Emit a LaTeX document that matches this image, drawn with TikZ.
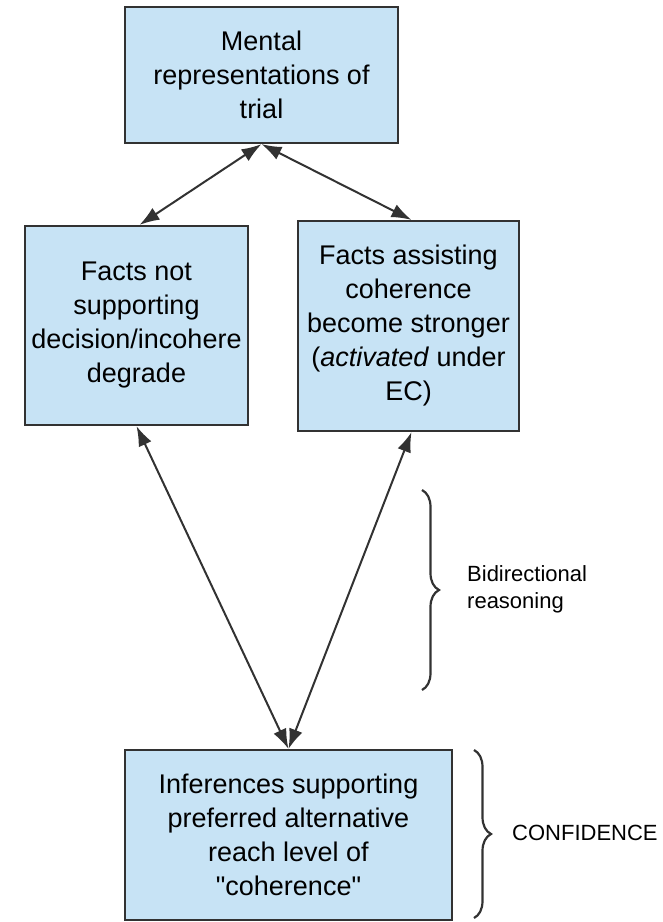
\documentclass[tikz,border=0pt]{standalone}
\usepackage{fontspec}
\setmainfont{Liberation Sans}
\usetikzlibrary{arrows.meta,decorations.pathreplacing,positioning}
\definecolor{boxblue}{RGB}{199,227,245}
\definecolor{edgegray}{RGB}{50,50,50}
\tikzset{
  stage/.style={
    shape = rectangle,
    draw = edgegray,
    fill = boxblue,
    line width = 2.2pt,
    align = center,
    inner sep = 0pt,
    font = \fontsize{27}{34}\selectfont
  },
}
\tikzset{
  link/.style={
    >={Latex[length=20pt,width=14pt]},
    <->,
    line width = 2pt,
    draw = edgegray
  },
  note/.style={
    align = left,
    anchor = west,
    inner sep = 0pt,
    font = \fontsize{22}{27}\selectfont
  },
  curly/.style={
    decorate,
    decoration = {brace, amplitude=17pt},
    line width = 2.2pt,
    draw = edgegray
  }
}

\begin{document}
\begin{tikzpicture}[x=1pt,y=-1pt]
    \useasboundingbox (0,0) rectangle (663,922);
    % boxes
    \node[stage, minimum width=273pt, minimum height=136pt] (trial) at (261.5,75) {Mental\\representations of\\trial};
    \node[stage, minimum width=223pt, minimum height=199pt] (degrade) at (136.5,325.5) {Facts not\\supporting\\decision/incohere\\degrade};
    \node[stage, minimum width=221pt, minimum height=210pt] (stronger) at (408.5,326) {Facts assisting\\coherence\\become stronger\\(\textit{activated} under\\EC)};
    \node[stage, minimum width=327pt, minimum height=170pt] (infer) at (288.5,835) {Inferences supporting\\preferred alternative\\reach level of\\\textquotedbl coherence\textquotedbl};

    % arrows
    \draw[link] (trial.south) -- ([xshift=3pt]degrade.north);
    \draw[link] (trial.south) -- ([xshift=3pt]stronger.north);
    \draw[link] (infer.north) -- (degrade.south);
    \draw[link] (infer.north) -- ([xshift=3pt]stronger.south);

    % braces
    \coordinate (bidtop) at (422,490);
    \coordinate (bidbot) at (422,690);
    \draw[curly] (bidtop) -- (bidbot);
    \node[note] (bid) at (467,589) {Bidirectional\\reasoning};
    \coordinate (conftop) at (474,750);
    \coordinate (confbot) at (474,918);
    \draw[curly] (conftop) -- (confbot);
    \node[note] (conf) at (512,833) {CONFIDENCE};
\end{tikzpicture}
\end{document}
